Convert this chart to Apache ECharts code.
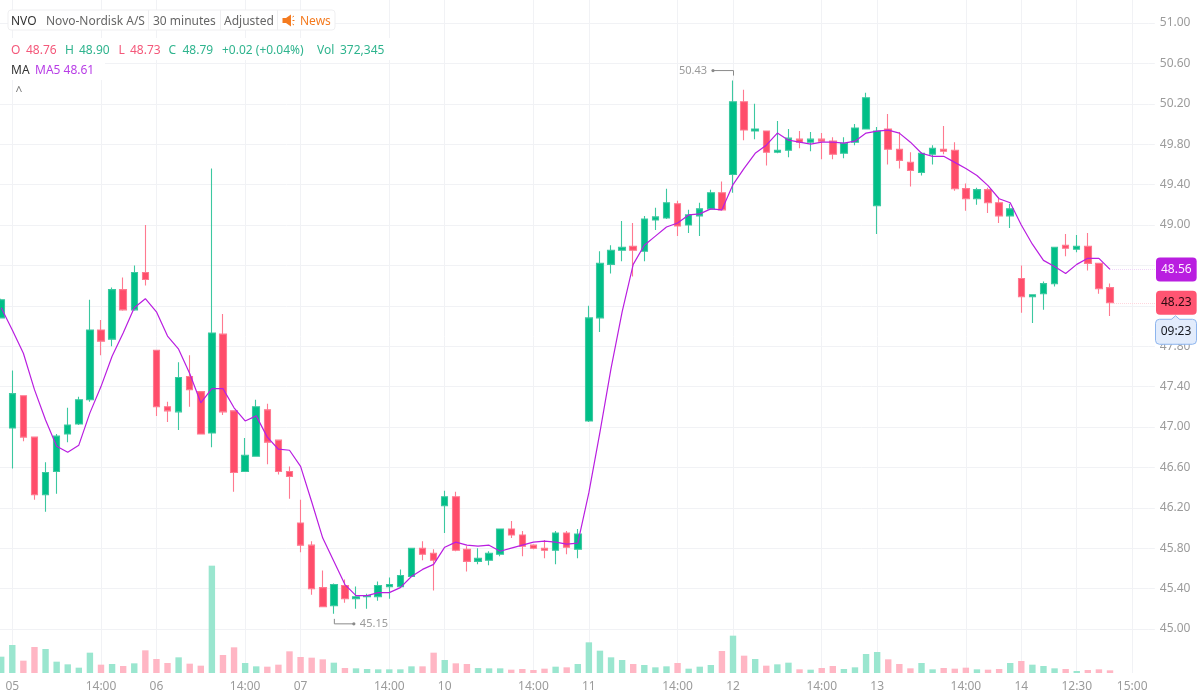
<!DOCTYPE html>
<html><head><meta charset="utf-8">
<style>html,body{margin:0;padding:0;background:#fff}#c{width:1200px;height:693px}</style>
<script src="https://cdn.jsdelivr.net/npm/echarts@6/dist/echarts.min.js"></script>
</head><body><div id="c"></div>
<script>
const opens=[48.08,46.99,47.31,46.90,46.33,46.56,46.93,47.03,47.27,47.96,47.87,48.36,48.16,48.53,47.76,47.20,47.15,47.50,47.35,46.94,47.92,47.16,46.56,46.71,47.17,46.87,46.56,
46.05,45.83,45.41,45.23,45.43,45.30,45.32,45.32,45.42,45.42,45.52,45.80,45.75,46.22,46.31,45.79,45.67,45.68,45.74,45.99,45.93,45.83,45.80,45.78,45.95,45.79,47.06,
48.08,48.61,48.75,48.79,48.74,49.05,49.07,49.21,49.00,49.09,49.16,49.32,49.50,50.22,49.93,49.93,49.72,49.74,49.85,49.82,49.85,49.83,49.71,49.82,49.95,
49.19,49.95,49.75,49.62,49.52,49.70,49.75,49.74,49.36,49.26,49.35,49.22,49.09,48.47,48.29,48.32,48.42,48.80,48.76,48.79,48.62,48.38];
const closes=[48.26,47.33,46.90,46.33,46.55,46.91,47.02,47.27,47.96,47.85,48.36,48.16,48.53,48.46,47.20,47.16,47.49,47.37,46.93,47.93,47.15,46.55,46.72,47.20,46.85,46.56,46.51,
45.83,45.40,45.22,45.44,45.30,45.32,45.33,45.43,45.44,45.53,45.80,45.74,45.68,46.31,45.78,45.67,45.70,45.75,45.99,45.93,45.82,45.80,45.78,45.95,45.81,45.94,48.08,
48.62,48.75,48.78,48.75,49.06,49.08,49.22,48.99,49.10,49.16,49.32,49.15,50.22,49.94,49.95,49.72,49.74,49.86,49.82,49.85,49.83,49.70,49.81,49.96,50.26,
49.93,49.75,49.64,49.54,49.71,49.76,49.73,49.36,49.26,49.35,49.22,49.09,49.16,48.29,48.31,48.42,48.78,48.77,48.79,48.62,48.37,48.23];
const lows=[48.08,46.59,46.86,46.28,46.16,46.34,46.85,47.02,47.25,47.71,47.80,48.15,48.15,48.40,47.11,47.05,46.97,47.20,46.93,46.80,47.12,46.36,46.56,46.71,46.63,46.53,46.29,
45.76,45.34,45.22,45.15,45.26,45.20,45.20,45.28,45.30,45.41,45.52,45.68,45.38,45.95,45.77,45.57,45.64,45.63,45.72,45.90,45.72,45.79,45.70,45.64,45.74,45.70,47.05,
47.94,48.52,48.64,48.49,48.64,48.95,49.06,48.89,48.92,48.89,49.15,49.14,49.32,49.84,49.85,49.59,49.71,49.67,49.76,49.73,49.65,49.65,49.66,49.79,49.95,
48.91,49.60,49.56,49.38,49.49,49.60,49.70,49.34,49.14,49.20,49.12,49.02,48.97,48.13,48.03,48.16,48.39,48.69,48.73,48.55,48.32,48.10];
const highs=[48.27,47.56,47.31,46.90,46.65,46.93,47.19,47.30,48.26,48.06,48.38,48.48,48.60,49.00,47.76,47.25,47.64,47.71,47.35,49.56,48.12,47.16,46.89,47.27,47.23,46.87,46.61,
46.28,45.87,45.58,45.45,45.49,45.42,45.35,45.47,45.51,45.59,45.80,45.87,45.79,46.37,46.36,45.82,45.80,45.77,45.99,46.07,45.97,45.84,45.88,45.97,45.97,45.99,48.20,
48.74,48.80,49.04,49.02,49.09,49.17,49.36,49.24,49.15,49.22,49.35,49.43,50.43,50.34,50.20,49.93,50.03,49.95,49.93,49.92,49.91,49.87,49.87,50.00,50.31,
49.97,50.10,49.92,49.72,49.72,49.79,49.98,49.82,49.41,49.37,49.37,49.26,49.21,48.60,48.31,48.44,48.78,48.91,48.90,48.92,48.62,48.42];
const ma5=[48.18,47.96,47.73,47.37,47.07,46.81,46.75,46.82,47.14,47.40,47.70,47.93,48.18,48.27,48.14,47.90,47.77,47.53,47.24,47.38,47.38,47.19,47.06,47.11,46.90,46.78,46.77,
46.61,46.26,45.90,45.67,45.44,45.33,45.33,45.36,45.36,45.41,45.52,45.59,45.64,45.81,45.86,45.83,45.82,45.83,45.77,45.80,45.83,45.86,45.87,45.86,45.84,45.85,
46.35,46.95,47.58,48.14,48.61,48.80,48.89,48.98,49.02,49.10,49.11,49.16,49.15,49.40,49.56,49.71,49.79,49.91,49.84,49.82,49.80,49.82,49.82,49.81,49.83,49.91,
49.93,49.94,49.91,49.82,49.71,49.68,49.68,49.62,49.56,49.49,49.39,49.26,49.22,49.00,48.81,48.65,48.59,48.52,48.61,48.67,48.67,48.56];
const volumes=[3038,5208,2294,4836,4464,2108,1612,992,3782,1550,1674,1302,1798,4216,2604,1860,2914,1736,1364,19964,3348,4774,1860,1240,1178,1550,4030,2976,2852,2542,1922,930,868,744,682,682,
682,1240,1240,3782,2418,1798,1674,930,868,868,620,744,558,806,1178,1054,1674,5704,4154,2914,2418,1674,1488,1054,1240,1860,806,1178,1488,4092,6944,3224,2604,1364,1612,1922,682,620,930,1302,744,1054,3534,3906,2542,1674,868,1860,682,930,806,992,682,620,744,1860,2232,1550,1302,868,744,372,558,682,496];
const tickIndex=[1,9,14,22,27,35,40,48,53,61,66,74,79,87,92,97,102];
const tickLabels=['05','14:00','06','14:00','07','14:00','10','14:00','11','14:00','12','14:00','13','14:00','14','12:30','15:00'];
const slotCount=104;
const peakMarks=[[66,50.43,'50.43','high'],[30,45.15,'45.15','low']];
const lastMA=48.56, lastClose=48.23, lastIndex=100, countdown='09:23';

const UP='#00bf87', DOWN='#ff4d6a', UPV='#9ae6cf', DOWNV='#ffb6c4', GRID='#f1f2f5', PURPLE='#b91ee0', AXT='#9b9b9b';
const FF='"Noto Sans"';
const slots=Array.from({length:slotCount},(_,i)=>String(i));
const band=11.088, gridLeft=-4.34, gridW=band*slotCount;
const candles=opens.map((o,i)=>[o,closes[i],lows[i],highs[i]]);
const volData=volumes.map((v,i)=>({value:v,itemStyle:{color:closes[i]>=opens[i]?UPV:DOWNV}}));

function T(x,y,text,fill,size){return {type:'text',x,y,z:101,silent:true,style:{text,fill,font:(size||12)+'px '+FF,verticalAlign:'middle',align:'left'}};}
function R(x,y,w,h,extra){return Object.assign({type:'rect',z:100,silent:true,shape:{x,y,width:w,height:h,r:3},style:{fill:'#fff'}},extra||{});}
const RED_T='#f4587a', GRN_T='#2fb48e', ORANGE='#f47b20';
const header=[
 R(0,38,392,22,{shape:{x:0,y:38,width:392,height:22}}),
 R(0,60,105,20,{shape:{x:0,y:60,width:105,height:20}}),
 R(8,10,327,20,{style:{fill:'#fff',stroke:'#efeff1',lineWidth:1}}),
 {type:'line',z:101,silent:true,shape:{x1:148.5,y1:10,x2:148.5,y2:30},style:{stroke:'#efeff1',lineWidth:1}},
 {type:'line',z:101,silent:true,shape:{x1:220.5,y1:10,x2:220.5,y2:30},style:{stroke:'#efeff1',lineWidth:1}},
 {type:'line',z:101,silent:true,shape:{x1:277.5,y1:10,x2:277.5,y2:30},style:{stroke:'#efeff1',lineWidth:1}},
 T(11,21.5,'NVO','#333'),T(46,21.5,'Novo-Nordisk A/S','#666'),T(153,21.5,'30 minutes','#666'),T(224,21.5,'Adjusted','#666'),
 {type:'polygon',z:101,silent:true,shape:{points:[[282.5,18],[286,18],[291,14.5],[291,26.5],[286,23],[282.5,23]]},style:{fill:ORANGE}},
 {type:'line',z:101,silent:true,shape:{x1:292.5,y1:20.5,x2:294.5,y2:20.5},style:{stroke:ORANGE,lineWidth:1}},
 {type:'line',z:101,silent:true,shape:{x1:292.5,y1:17,x2:294,y2:16},style:{stroke:ORANGE,lineWidth:1}},
 {type:'line',z:101,silent:true,shape:{x1:292.5,y1:24,x2:294,y2:25},style:{stroke:ORANGE,lineWidth:1}},
 T(300,21.5,'News',ORANGE),
 T(11,50.5,'O',RED_T),T(26,50.5,'48.76',RED_T),T(65,50.5,'H',GRN_T),T(79,50.5,'48.90',GRN_T),
 T(118.5,50.5,'L',RED_T),T(130,50.5,'48.73',RED_T),T(168.5,50.5,'C',GRN_T),T(182.5,50.5,'48.79',GRN_T),
 T(222,50.5,'+0.02 (+0.04%)',GRN_T),T(317,50.5,'Vol',GRN_T),T(340,50.5,'372,345',GRN_T),
 T(11,70.5,'MA','#333'),T(35,70.5,'MA5 48.61','#b83ee6'),
 T(15.5,92,'^','#777')
];

const chart=echarts.init(document.getElementById('c'),null,{renderer:'canvas'});
chart.setOption({
 animation:false,
 textStyle:{fontFamily:FF},
 grid:[
  {left:gridLeft,width:gridW,top:23,height:606,containLabel:false,outerBoundsMode:'none'},
  {left:gridLeft,width:gridW,top:0,height:673,containLabel:false,outerBoundsMode:'none'}
 ],
 xAxis:[
  {type:'category',gridIndex:0,data:slots,show:false,boundaryGap:true},
  {type:'category',gridIndex:1,data:slots,boundaryGap:true,
   axisLine:{show:false},axisTick:{show:false},
   axisLabel:{interval:(i)=>tickIndex.includes(i),formatter:(v,i)=>{const k=tickIndex.indexOf(+v);return k<0?'':tickLabels[k];},color:AXT,fontSize:12,margin:8,fontFamily:FF},
   splitLine:{show:true,alignWithLabel:true,interval:(i)=>tickIndex.includes(i),lineStyle:{color:GRID,width:1}}}
 ],
 yAxis:[
  {type:'value',gridIndex:0,position:'right',min:45,max:51,interval:0.4,scale:true,
   axisLine:{show:false},axisTick:{show:true,length:6,lineStyle:{color:GRID}},
   axisLabel:{color:AXT,fontSize:12,margin:11,fontFamily:FF,padding:[4,0,0,0],formatter:v=>v.toFixed(2)},
   splitLine:{show:true,lineStyle:{color:GRID,width:1}}},
  {type:'value',gridIndex:1,min:0,max:125178,show:false,splitLine:{show:false}}
 ],
 series:[
  {type:'bar',name:'Vol',xAxisIndex:1,yAxisIndex:1,data:volData,barWidth:6.4,z:1,silent:true},
  {type:'candlestick',name:'NVO',xAxisIndex:0,yAxisIndex:0,data:candles,barWidth:7,z:3,silent:true,
   itemStyle:{color:UP,color0:DOWN,borderColor:'#3cc8a0',borderColor0:'#ff7a90',borderWidth:1.1}},
  {type:'line',name:'MA5',xAxisIndex:0,yAxisIndex:0,data:ma5,showSymbol:false,smooth:false,z:4,silent:true,
   lineStyle:{color:PURPLE,width:1.2},
   markLine:{silent:true,symbol:'none',animation:false,data:[
    [{xAxis:lastIndex,yAxis:lastMA,lineStyle:{color:'#f0d6f8',type:'dotted',width:1},
      label:{show:true,position:'end',distance:1,formatter:lastMA.toFixed(2),color:'#fdeeff',backgroundColor:PURPLE,borderRadius:4,padding:[4,5],fontSize:12,fontFamily:FF,lineHeight:16}},{xAxis:103,yAxis:lastMA,x:1155}],
    [{xAxis:lastIndex,yAxis:lastClose,lineStyle:{color:'#ffd6de',type:'dotted',width:1},
      label:{show:true,position:'end',distance:1,formatter:lastClose.toFixed(2),color:'#2a0a10',backgroundColor:'#ff5572',borderRadius:4,padding:[4,5],fontSize:12,fontFamily:FF,lineHeight:16}},{xAxis:103,yAxis:lastClose,x:1155}]
   ]}},
  {type:'custom',name:'peaks',xAxisIndex:0,yAxisIndex:0,z:6,clip:false,silent:true,
   data:peakMarks,encode:{x:0,y:1},
   renderItem:(params,api)=>{
    const it=peakMarks[params.dataIndex];
    const p=api.coord([api.value(0),api.value(1)]);
    const hi=it[3]==='high', s=hi?-1:1, d=hi?-20:20;
    const ys=p[1]+s*5, yb=p[1]+s*10, xe=p[0]+d;
    return {type:'group',children:[
     {type:'polyline',shape:{points:[[p[0]+.5,ys],[p[0]+.5,yb],[xe,yb]]},style:{stroke:'#8a8a8a',lineWidth:1,fill:null}},
     {type:'circle',shape:{cx:xe,cy:yb,r:1.6},style:{fill:'#8a8a8a'}},
     {type:'text',x:xe+(hi?-6:6),y:yb,style:{text:it[2],fill:AXT,font:'11px '+FF,align:hi?'right':'left',verticalAlign:'middle'}}
    ]};
   }},
  {type:'custom',name:'countdown',xAxisIndex:0,yAxisIndex:0,z:7,clip:false,silent:true,
   data:[[lastIndex,lastClose]],encode:{x:0,y:1},
   renderItem:(params,api)=>{
    const p=api.coord([api.value(0),api.value(1)]);
    const x=1155.5,y=p[1]+16.5,w=41,h=25;
    return {type:'group',children:[
     {type:'rect',shape:{x,y,width:w,height:h,r:4},style:{fill:'#e2ecfc',stroke:'#8db5ee',lineWidth:1}},
     {type:'polygon',shape:{points:[[x+16,y+.8],[x+20,y-3],[x+24,y+.8]]},style:{fill:'#e2ecfc',stroke:'#e2ecfc',lineWidth:.5}},
     {type:'polyline',shape:{points:[[x+16,y],[x+20,y-3.5],[x+24,y]]},style:{stroke:'#8db5ee',lineWidth:1,fill:null}},
     {type:'text',x:x+w/2,y:y+h/2,style:{text:countdown,fill:'#15181f',font:'12px '+FF,align:'center',verticalAlign:'middle'}}
    ]};
   }}
 ],
 graphic:{elements:header}
});
</script></body></html>
